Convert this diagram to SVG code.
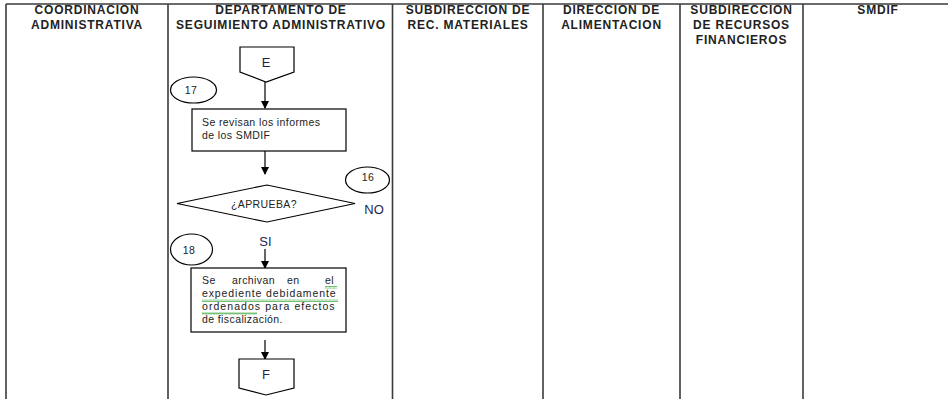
<svg xmlns="http://www.w3.org/2000/svg" width="948" height="399" viewBox="0 0 948 399">
<defs>
<marker id="ah" markerWidth="8" markerHeight="8" refX="7" refY="4" orient="auto" markerUnits="userSpaceOnUse">
<path d="M0,0 L8,4 L0,8 Z" fill="#000"/>
</marker>
<pattern id="wave" width="4" height="3" patternUnits="userSpaceOnUse">
<path d="M0,2.5 L1,0.5 L2,2.5 L3,0.5 L4,2.5" fill="none" stroke="#3aa83a" stroke-width="0.7"/>
</pattern>
</defs>
<style>
.lane{stroke:#3a3a3a;stroke-width:1.6;fill:none}
.hd{font-family:"Liberation Sans",Arial,sans-serif;font-weight:bold;font-size:12px;fill:#222;text-anchor:middle;letter-spacing:0.8px}
.sh{fill:#fff;stroke:#000;stroke-width:1.2}
.tx{font-family:"Liberation Sans",Arial,sans-serif;font-size:10.5px;fill:#222;letter-spacing:0.4px}
.lb{font-family:"Liberation Sans",Arial,sans-serif;font-size:13px;fill:#1f1f4f;text-anchor:middle}
.cn{stroke:#000;stroke-width:1.2;fill:none}
</style>
<rect width="948" height="399" fill="#fff"/>
<g id="lanes">
<line class="lane" x1="6" y1="4" x2="948" y2="4"/>
<line class="lane" x1="6" y1="4" x2="6" y2="399"/>
<line class="lane" x1="168" y1="4" x2="168" y2="399"/>
<line class="lane" x1="392.5" y1="4" x2="392.5" y2="399"/>
<line class="lane" x1="543" y1="4" x2="543" y2="399"/>
<line class="lane" x1="680" y1="4" x2="680" y2="399"/>
<line class="lane" x1="803" y1="4" x2="803" y2="399"/>
</g>
<g id="headers">
<text class="hd" x="87" y="14">COORDINACION</text>
<text class="hd" x="87" y="29">ADMINISTRATIVA</text>
<text class="hd" x="281" y="14">DEPARTAMENTO DE</text>
<text class="hd" x="281" y="29">SEGUIMIENTO ADMINISTRATIVO</text>
<text class="hd" x="468" y="14">SUBDIRECCION DE</text>
<text class="hd" x="468" y="29">REC. MATERIALES</text>
<text class="hd" x="611.5" y="14">DIRECCION DE</text>
<text class="hd" x="611.5" y="29">ALIMENTACION</text>
<text class="hd" x="741.5" y="14">SUBDIRECCION</text>
<text class="hd" x="741.5" y="29">DE RECURSOS</text>
<text class="hd" x="741.5" y="44">FINANCIEROS</text>
<text class="hd" x="878" y="14">SMDIF</text>
</g>
<g id="connectors">
<line class="cn" x1="265" y1="82" x2="265" y2="108" marker-end="url(#ah)"/>
<line class="cn" x1="265" y1="151" x2="265" y2="174" marker-end="url(#ah)"/>
<line class="cn" x1="265" y1="249" x2="265" y2="268" marker-end="url(#ah)"/>
<line class="cn" x1="265" y1="340" x2="265" y2="359" marker-end="url(#ah)"/>
<text class="lb" x="374" y="214" font-size="14">NO</text>
<text class="lb" x="265.5" y="246">SI</text>
</g>
<g id="node-E">
<path class="sh" d="M240,47 L294,47 L294,72 L266,82 L240,72 Z"/>
<text class="lb" x="266" y="67" font-size="14">E</text>
</g>
<g id="node-17">
<ellipse class="sh" cx="193.5" cy="90" rx="23" ry="13"/>
<text class="tx" x="191" y="94" text-anchor="middle" fill="#1f1f4f">17</text>
</g>
<g id="node-revisan">
<rect class="sh" x="192" y="109" width="154" height="42"/>
<text class="tx" x="202" y="126">Se revisan los informes</text>
<text class="tx" x="202" y="139">de los SMDIF</text>
</g>
<g id="node-16">
<ellipse class="sh" cx="367.5" cy="180" rx="22" ry="13"/>
<text class="tx" x="368" y="181" text-anchor="middle" fill="#1f1f4f">16</text>
</g>
<g id="node-aprueba">
<path class="sh" d="M177,203.5 L267,185 L355,203.5 L267,222 Z"/>
<text class="tx" x="264" y="208" text-anchor="middle" font-size="11.5">¿APRUEBA?</text>
</g>
<g id="node-18">
<ellipse class="sh" cx="191.5" cy="249.5" rx="21" ry="15.5"/>
<text class="tx" x="189" y="254" text-anchor="middle" fill="#1f1f4f">18</text>
</g>
<g id="node-archivan">
<rect class="sh" x="191" y="268" width="155" height="64"/>
<text class="tx" x="202" y="284">Se</text>
<text class="tx" x="232" y="284">archivan</text>
<text class="tx" x="287" y="284">en</text>
<text class="tx" x="325" y="284">el</text>
<text class="tx" x="202" y="297" textLength="134" lengthAdjust="spacing">expediente debidamente</text>
<text class="tx" x="202" y="310" textLength="133" lengthAdjust="spacing">ordenados para efectos</text>
<text class="tx" x="202" y="323">de fiscalización.</text>
<rect x="325" y="286" width="12" height="3" fill="url(#wave)"/>
<rect x="202" y="299" width="136" height="3" fill="url(#wave)"/>
<rect x="202" y="312" width="55" height="3" fill="url(#wave)"/>
</g>
<g id="node-F">
<path class="sh" d="M239,359 L294,359 L294,388 L266,395 L239,388 Z"/>
<text class="lb" x="266" y="379">F</text>
</g>
</svg>
